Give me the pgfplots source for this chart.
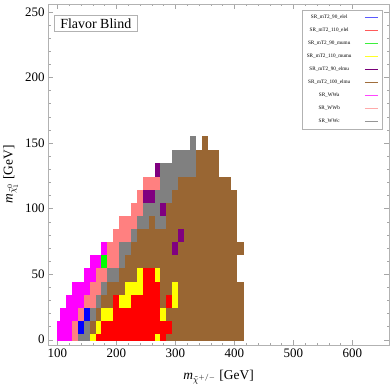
\documentclass[border=0pt]{standalone}
\usepackage{fontspec}
\setmainfont{Liberation Serif}
\usepackage{pgfplots}
\pgfplotsset{compat=1.18}
\definecolor{lgBlue}{RGB}{90,90,255}
\definecolor{lgRed}{RGB}{255,90,90}
\definecolor{lgGreen}{RGB}{60,240,60}
\definecolor{lgYellow}{RGB}{255,255,40}
\definecolor{lgPurple}{RGB}{120,0,120}
\definecolor{lgBrown}{RGB}{160,110,60}
\definecolor{lgMagenta}{RGB}{255,70,255}
\definecolor{lgPink}{RGB}{255,170,170}
\definecolor{lgGray}{RGB}{150,150,150}

\begin{document}
\begin{tikzpicture}
\begin{axis}[
    scale only axis,
    width=341bp, height=341bp,
    xmin=84, xmax=662,
    ymin=-4, ymax=256,
    xtick={100,200,300,400,500,600},
    ytick={0,50,100,150,200,250},
    minor x tick num=4, minor y tick num=4,
    major tick length=5bp, minor tick length=2.5bp,
    every tick/.style={black!35, line width=0.4pt},
    axis line style={black!30},
    tick label style={font=\fontsize{13}{15}\selectfont},
    /pgf/number format/assume math mode=true,
    label style={font=\fontsize{13.5}{16}\selectfont},
    xlabel={\textit{m}$_{\tilde{\chi}^{+/-}}$ [GeV]},
    ylabel={\textit{m}$_{\tilde{\chi}^{0}_{1}}$ [GeV]},
    xlabel style={yshift=-6bp},
    colormap={cats}{rgb=(1,1,1) rgb=(0,0,1) rgb=(1,0,0) rgb=(0,1,0) rgb=(1,1,0)
      rgb=(0.5,0,0.5) rgb=(0.6,0.4,0.2) rgb=(1,0,1) rgb=(1,0.5,0.5) rgb=(0.5,0.5,0.5)},
    colormap access=direct,
    legend style={at={(0.982,0.982)}, anchor=north east, draw=black!30,
      font=\fontsize{5.2}{6}\selectfont, inner sep=4bp, row sep=6.5bp, column sep=12bp,
      nodes={inner sep=0.5bp, text height=4bp, text depth=1.5bp}},
    legend plot pos=right,
    legend cell align=center,
    legend image code/.code={\draw (0bp,0bp) -- (13bp,0bp);},
]
\coordinate (frameSW) at (rel axis cs:0,0);

% cell colour index: 0 empty, 1 elel90, 2 elel110, 3 mumu90, 4 mumu110,
% 5 elmu90, 6 elmu100, 7 WWa, 8 WWb, 9 WWc  (lower-left corner of each cell)
\addplot[surf, shader=flat corner, mesh/cols=33, point meta=explicit, forget plot]
coordinates {
(100,0)[7] (105,0)[7] (115,0)[7] (125,0)[8] (135,0)[9] (145,0)[9] (155,0)[4] (165,0)[2] (175,0)[2] (185,0)[2] (195,0)[2] (205,0)[2] (215,0)[2] (225,0)[2] (235,0)[2] (245,0)[2] (255,0)[2] (265,0)[4] (275,0)[2] (285,0)[6] (295,0)[6] (305,0)[6] (315,0)[6] (325,0)[6] (335,0)[6] (345,0)[6] (355,0)[6] (365,0)[6] (375,0)[6] (385,0)[6] (395,0)[6] (405,0)[6] (415,0)[0]
(100,5)[7] (105,5)[7] (115,5)[7] (125,5)[8] (135,5)[1] (145,5)[9] (155,5)[6] (165,5)[4] (175,5)[2] (185,5)[2] (195,5)[2] (205,5)[2] (215,5)[2] (225,5)[2] (235,5)[2] (245,5)[2] (255,5)[2] (265,5)[2] (275,5)[2] (285,5)[2] (295,5)[6] (305,5)[6] (315,5)[6] (325,5)[6] (335,5)[6] (345,5)[6] (355,5)[6] (365,5)[6] (375,5)[6] (385,5)[6] (395,5)[6] (405,5)[6] (415,5)[0]
(100,15)[0] (105,15)[7] (115,15)[7] (125,15)[7] (135,15)[8] (145,15)[1] (155,15)[9] (165,15)[6] (175,15)[4] (185,15)[4] (195,15)[2] (205,15)[2] (215,15)[2] (225,15)[2] (235,15)[2] (245,15)[2] (255,15)[2] (265,15)[2] (275,15)[4] (285,15)[6] (295,15)[6] (305,15)[6] (315,15)[6] (325,15)[6] (335,15)[6] (345,15)[6] (355,15)[6] (365,15)[6] (375,15)[6] (385,15)[6] (395,15)[6] (405,15)[6] (415,15)[0]
(100,25)[0] (105,25)[0] (115,25)[7] (125,25)[7] (135,25)[7] (145,25)[8] (155,25)[8] (165,25)[9] (175,25)[6] (185,25)[6] (195,25)[2] (205,25)[4] (215,25)[4] (225,25)[2] (235,25)[2] (245,25)[2] (255,25)[2] (265,25)[2] (275,25)[6] (285,25)[2] (295,25)[4] (305,25)[6] (315,25)[6] (325,25)[6] (335,25)[6] (345,25)[6] (355,25)[6] (365,25)[6] (375,25)[6] (385,25)[6] (395,25)[6] (405,25)[6] (415,25)[0]
(100,35)[0] (105,35)[0] (115,35)[0] (125,35)[7] (135,35)[7] (145,35)[7] (155,35)[8] (165,35)[8] (175,35)[9] (185,35)[6] (195,35)[6] (205,35)[6] (215,35)[4] (225,35)[4] (235,35)[4] (245,35)[2] (255,35)[2] (265,35)[2] (275,35)[6] (285,35)[6] (295,35)[4] (305,35)[6] (315,35)[6] (325,35)[6] (335,35)[6] (345,35)[6] (355,35)[6] (365,35)[6] (375,35)[6] (385,35)[6] (395,35)[6] (405,35)[6] (415,35)[0]
(100,45)[0] (105,45)[0] (115,45)[0] (125,45)[0] (135,45)[0] (145,45)[7] (155,45)[7] (165,45)[8] (175,45)[8] (185,45)[9] (195,45)[9] (205,45)[6] (215,45)[6] (225,45)[6] (235,45)[4] (245,45)[2] (255,45)[2] (265,45)[4] (275,45)[6] (285,45)[6] (295,45)[6] (305,45)[6] (315,45)[6] (325,45)[6] (335,45)[6] (345,45)[6] (355,45)[6] (365,45)[6] (375,45)[6] (385,45)[6] (395,45)[6] (405,45)[0] (415,45)[0]
(100,55)[0] (105,55)[0] (115,55)[0] (125,55)[0] (135,55)[0] (145,55)[0] (155,55)[7] (165,55)[7] (175,55)[3] (185,55)[8] (195,55)[8] (205,55)[9] (215,55)[6] (225,55)[6] (235,55)[6] (245,55)[6] (255,55)[6] (265,55)[6] (275,55)[6] (285,55)[6] (295,55)[6] (305,55)[6] (315,55)[6] (325,55)[6] (335,55)[6] (345,55)[6] (355,55)[6] (365,55)[6] (375,55)[6] (385,55)[6] (395,55)[6] (405,55)[0] (415,55)[0]
(100,65)[0] (105,65)[0] (115,65)[0] (125,65)[0] (135,65)[0] (145,65)[0] (155,65)[0] (165,65)[0] (175,65)[7] (185,65)[8] (195,65)[8] (205,65)[9] (215,65)[9] (225,65)[6] (235,65)[6] (245,65)[6] (255,65)[6] (265,65)[6] (275,65)[6] (285,65)[6] (295,65)[5] (305,65)[6] (315,65)[6] (325,65)[6] (335,65)[6] (345,65)[6] (355,65)[6] (365,65)[6] (375,65)[6] (385,65)[6] (395,65)[6] (405,65)[6] (415,65)[0]
(100,75)[0] (105,75)[0] (115,75)[0] (125,75)[0] (135,75)[0] (145,75)[0] (155,75)[0] (165,75)[0] (175,75)[0] (185,75)[0] (195,75)[8] (205,75)[8] (215,75)[8] (225,75)[9] (235,75)[6] (245,75)[6] (255,75)[6] (265,75)[6] (275,75)[6] (285,75)[6] (295,75)[6] (305,75)[5] (315,75)[6] (325,75)[6] (335,75)[6] (345,75)[6] (355,75)[6] (365,75)[6] (375,75)[6] (385,75)[6] (395,75)[6] (405,75)[0] (415,75)[0]
(100,85)[0] (105,85)[0] (115,85)[0] (125,85)[0] (135,85)[0] (145,85)[0] (155,85)[0] (165,85)[0] (175,85)[0] (185,85)[0] (195,85)[0] (205,85)[8] (215,85)[8] (225,85)[8] (235,85)[9] (245,85)[9] (255,85)[6] (265,85)[9] (275,85)[9] (285,85)[6] (295,85)[6] (305,85)[6] (315,85)[6] (325,85)[6] (335,85)[6] (345,85)[6] (355,85)[6] (365,85)[6] (375,85)[6] (385,85)[6] (395,85)[6] (405,85)[0] (415,85)[0]
(100,95)[0] (105,95)[0] (115,95)[0] (125,95)[0] (135,95)[0] (145,95)[0] (155,95)[0] (165,95)[0] (175,95)[0] (185,95)[0] (195,95)[0] (205,95)[0] (215,95)[0] (225,95)[8] (235,95)[8] (245,95)[9] (255,95)[9] (265,95)[9] (275,95)[5] (285,95)[6] (295,95)[6] (305,95)[6] (315,95)[6] (325,95)[6] (335,95)[6] (345,95)[6] (355,95)[6] (365,95)[6] (375,95)[6] (385,95)[6] (395,95)[6] (405,95)[0] (415,95)[0]
(100,105)[0] (105,105)[0] (115,105)[0] (125,105)[0] (135,105)[0] (145,105)[0] (155,105)[0] (165,105)[0] (175,105)[0] (185,105)[0] (195,105)[0] (205,105)[0] (215,105)[0] (225,105)[0] (235,105)[8] (245,105)[5] (255,105)[5] (265,105)[9] (275,105)[9] (285,105)[9] (295,105)[6] (305,105)[6] (315,105)[6] (325,105)[6] (335,105)[6] (345,105)[6] (355,105)[6] (365,105)[6] (375,105)[6] (385,105)[6] (395,105)[6] (405,105)[0] (415,105)[0]
(100,115)[0] (105,115)[0] (115,115)[0] (125,115)[0] (135,115)[0] (145,115)[0] (155,115)[0] (165,115)[0] (175,115)[0] (185,115)[0] (195,115)[0] (205,115)[0] (215,115)[0] (225,115)[0] (235,115)[0] (245,115)[8] (255,115)[8] (265,115)[8] (275,115)[9] (285,115)[9] (295,115)[9] (305,115)[6] (315,115)[6] (325,115)[6] (335,115)[6] (345,115)[6] (355,115)[6] (365,115)[6] (375,115)[6] (385,115)[6] (395,115)[0] (405,115)[0] (415,115)[0]
(100,125)[0] (105,125)[0] (115,125)[0] (125,125)[0] (135,125)[0] (145,125)[0] (155,125)[0] (165,125)[0] (175,125)[0] (185,125)[0] (195,125)[0] (205,125)[0] (215,125)[0] (225,125)[0] (235,125)[0] (245,125)[0] (255,125)[0] (265,125)[5] (275,125)[9] (285,125)[9] (295,125)[9] (305,125)[9] (315,125)[9] (325,125)[9] (335,125)[6] (345,125)[6] (355,125)[6] (365,125)[6] (375,125)[0] (385,125)[0] (395,125)[0] (405,125)[0] (415,125)[0]
(100,135)[0] (105,135)[0] (115,135)[0] (125,135)[0] (135,135)[0] (145,135)[0] (155,135)[0] (165,135)[0] (175,135)[0] (185,135)[0] (195,135)[0] (205,135)[0] (215,135)[0] (225,135)[0] (235,135)[0] (245,135)[0] (255,135)[0] (265,135)[0] (275,135)[0] (285,135)[0] (295,135)[9] (305,135)[9] (315,135)[9] (325,135)[9] (335,135)[6] (345,135)[6] (355,135)[6] (365,135)[6] (375,135)[0] (385,135)[0] (395,135)[0] (405,135)[0] (415,135)[0]
(100,145)[0] (105,145)[0] (115,145)[0] (125,145)[0] (135,145)[0] (145,145)[0] (155,145)[0] (165,145)[0] (175,145)[0] (185,145)[0] (195,145)[0] (205,145)[0] (215,145)[0] (225,145)[0] (235,145)[0] (245,145)[0] (255,145)[0] (265,145)[0] (275,145)[0] (285,145)[0] (295,145)[0] (305,145)[0] (315,145)[0] (325,145)[9] (335,145)[0] (345,145)[6] (355,145)[0] (365,145)[0] (375,145)[0] (385,145)[0] (395,145)[0] (405,145)[0] (415,145)[0]
(100,155)[0] (105,155)[0] (115,155)[0] (125,155)[0] (135,155)[0] (145,155)[0] (155,155)[0] (165,155)[0] (175,155)[0] (185,155)[0] (195,155)[0] (205,155)[0] (215,155)[0] (225,155)[0] (235,155)[0] (245,155)[0] (255,155)[0] (265,155)[0] (275,155)[0] (285,155)[0] (295,155)[0] (305,155)[0] (315,155)[0] (325,155)[0] (335,155)[0] (345,155)[0] (355,155)[0] (365,155)[0] (375,155)[0] (385,155)[0] (395,155)[0] (405,155)[0] (415,155)[0]
};

\addlegendimage{lgBlue, line width=1.6bp}
\addlegendentry{SR\_mT2\_90\_elel}
\addlegendimage{lgRed, line width=1.6bp}
\addlegendentry{SR\_mT2\_110\_elel}
\addlegendimage{lgGreen, line width=1.6bp}
\addlegendentry{SR\_mT2\_90\_mumu}
\addlegendimage{lgYellow, line width=1.6bp}
\addlegendentry{SR\_mT2\_110\_mumu}
\addlegendimage{lgPurple, line width=1.6bp}
\addlegendentry{SR\_mT2\_90\_elmu}
\addlegendimage{lgBrown, line width=1.6bp}
\addlegendentry{SR\_mT2\_100\_elmu}
\addlegendimage{lgMagenta, line width=1.6bp}
\addlegendentry{SR\_WWa}
\addlegendimage{lgPink, line width=1.6bp}
\addlegendentry{SR\_WWb}
\addlegendimage{lgGray, line width=1.6bp}
\addlegendentry{SR\_WWc}

\node[draw=black!30, fill=white, anchor=north west, inner xsep=6bp, inner ysep=3.5bp,
  text height=9.5bp, text depth=0bp, font=\fontsize{14}{16}\selectfont]
  at (rel axis cs:0.018,0.968) {Flavor Blind};
\end{axis}
\pgfresetboundingbox
\path[use as bounding box] (frameSW) ++(-48bp,-45bp) rectangle ++(390bp,390bp);
\end{tikzpicture}
\end{document}
